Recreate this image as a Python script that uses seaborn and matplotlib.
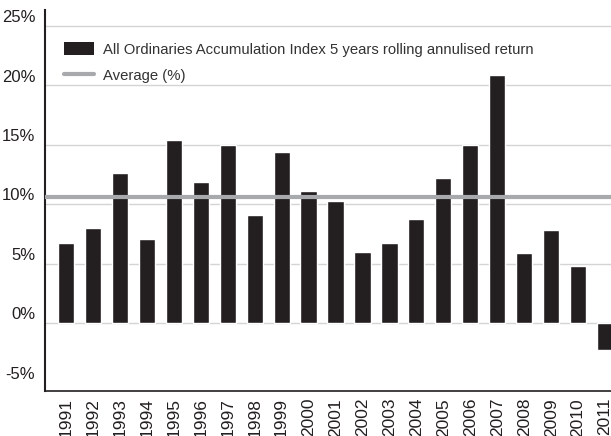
import numpy as np
import pandas as pd
import matplotlib
matplotlib.use('Agg')
import matplotlib.pyplot as plt
import matplotlib.transforms as mtransforms
from matplotlib.patches import Patch
from matplotlib.lines import Line2D
import seaborn as sns

years = [str(y) for y in range(1991, 2012)]
returns = [6.7, 8.0, 12.6, 7.1, 15.4, 11.9, 15.0, 9.1, 14.4, 11.1, 10.3,
           6.0, 6.75, 8.75, 12.2, 15.0, 20.9, 5.9, 7.8, 4.8, -2.3]
average = 10.6
y_ticks = [-5, 0, 5, 10, 15, 20, 25]
y_tick_labels = ['-5%', '0%', '5%', '10%', '15%', '20%', '25%']

bar_label = 'All Ordinaries Accumulation Index 5 years rolling annulised return'
avg_label = 'Average (%)'

df = pd.DataFrame({'year': years, 'ret': returns})

sns.set_style('white')
plt.rcParams['font.family'] = ['Liberation Sans', 'DejaVu Sans']

bar_color = '#231f20'
avg_color = '#a7a9ac'
grid_color = '#d4d4d4'

fig = plt.figure(figsize=(6.11, 4.36), dpi=100)
ax = fig.add_axes([0.0736, 0.1032, 0.9264, 0.8739])

sns.barplot(data=df, x='year', y='ret', color=bar_color, saturation=1,
            width=0.6, ax=ax, zorder=3)

ax.axhline(average, color=avg_color, lw=3, zorder=4)

ax.set_ylim(-5.73, 26.35)
ax.set_xlim(-0.78, 20.22)
ax.set_yticks(y_ticks)
ax.set_yticklabels(y_tick_labels)
for t in y_ticks:
    if t >= 0:
        ax.axhline(t, color=grid_color, lw=1, zorder=1)

ax.set_xlabel('')
ax.set_ylabel('')
ax.tick_params(axis='y', length=0, pad=7, labelsize=12, labelcolor=bar_color)
ax.tick_params(axis='x', length=0, pad=5, labelsize=12.5, labelcolor=bar_color,
               rotation=90)
for lab in ax.get_xticklabels():
    lab.set_va('top')

# shift y labels up a bit so they sit above the grid lines
offset = mtransforms.ScaledTranslation(0, 7 / 72, fig.dpi_scale_trans)
for lab in ax.get_yticklabels():
    lab.set_transform(lab.get_transform() + offset)

for side in ['top', 'right']:
    ax.spines[side].set_visible(False)
ax.spines['left'].set_color(bar_color)
ax.spines['left'].set_linewidth(1.5)
ax.spines['bottom'].set_color(bar_color)
ax.spines['bottom'].set_linewidth(1.2)

handles = [Patch(facecolor=bar_color, edgecolor='none', label=bar_label),
           Line2D([0], [0], color=avg_color, lw=3, label=avg_label)]
ax.legend(handles=handles, loc='upper left', bbox_to_anchor=(0.01, 0.95),
          frameon=False, fontsize=10.7, handlelength=2.0, handleheight=0.9,
          handletextpad=0.6, labelspacing=0.8, labelcolor='#333333')

fig.savefig('out.png', dpi=100)
